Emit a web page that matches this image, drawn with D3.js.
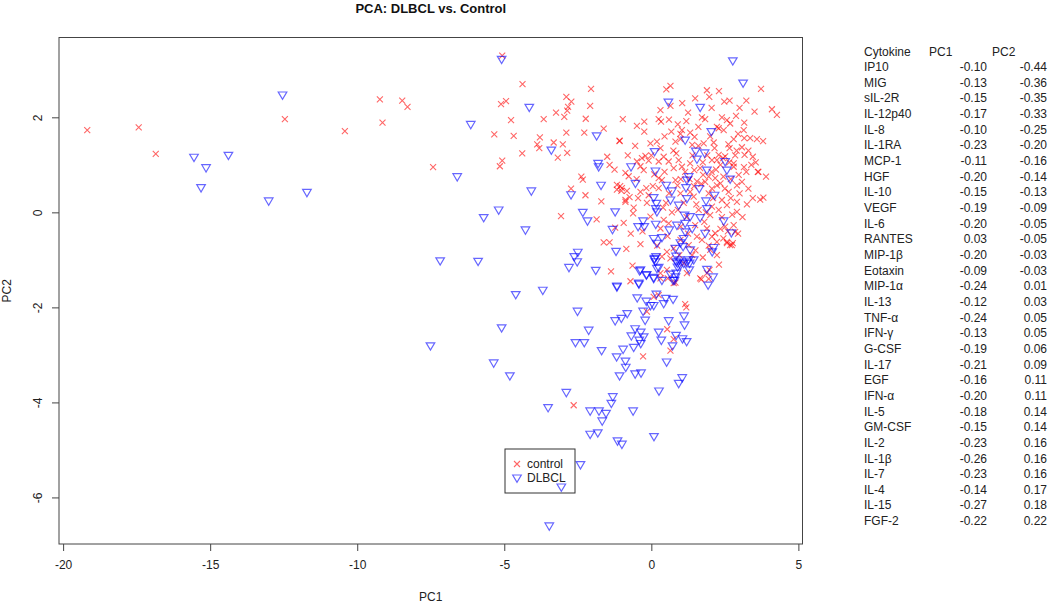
<!DOCTYPE html>
<html>
<head>
<meta charset="utf-8">
<script src="https://cdn.jsdelivr.net/npm/d3@7"></script>
<style>
  body { margin: 0; background: #fff; }
  text { font-family: "Liberation Sans", Arial, sans-serif; }
</style>
</head>
<body>
<div id="container"></div>
<script>
/* DATA */
const xTicks = [-20, -15, -10, -5, 0, 5];
const yTicks = [-6, -4, -2, 0, 2];

// control samples [PC1, PC2]
const controlPoints = [
  [-19.18,1.73],[-17.43,1.79],[-16.85,1.23],[-12.46,1.96],[-10.42,1.71],[-9.23,2.38],[-9.14,1.89],[-8.47,2.35],[-8.29,2.22],[-7.42,0.95],
  [-5.34,1.64],[-5.11,2.28],[-5.07,3.30],[-5.15,0.97],[-5.07,1.09],[-4.38,2.70],[-4.94,2.34],[-4.77,1.94],[-4.68,1.61],[-4.39,1.24],
  [-3.66,1.96],[-3.24,2.10],[-2.89,2.43],[-2.72,2.33],[-2.96,2.01],[-2.86,2.14],[-2.83,2.22],[-2.05,2.60],[-2.08,2.24],[-2.23,1.97],
  [-2.89,1.68],[-2.28,1.68],[-1.62,1.76],[-3.79,1.58],[-3.88,1.43],[-3.81,1.35],[-3.32,1.47],[-3.01,1.43],[-3.18,1.15],[-2.86,1.25],
  [-0.97,1.96],[-1.08,1.50],[-1.50,1.17],[-1.42,1.00],[-2.38,0.75],[-2.33,0.69],[-2.73,0.50],[-2.24,0.36],[-1.70,0.23],[-3.07,-0.08],
  [-1.86,-0.15],[-1.23,-0.32],[-1.62,-0.63],[-1.42,-0.63],[-0.85,-0.77],[-0.62,-0.02],[-1.37,-1.24],[-1.06,0.55],[-1.17,0.48],[-1.02,0.45],
  [-0.88,0.83],[-0.77,0.76],[-0.88,0.22],[-0.64,-1.12],[-0.71,-1.45],[-0.37,-0.67],[0.08,-1.78],[0.25,-1.74],[-0.15,-2.09],[1.15,-1.93],
  [1.19,-2.00],[0.54,-2.46],[0.76,-2.67],[0.65,-2.91],[-0.28,-3.03],[-2.64,-4.06],[1.70,-1.41],[1.95,-1.40],[1.98,-1.21],[1.21,-1.28],
  [1.10,-1.07],[0.76,-1.49],[0.31,-1.39],[0.53,-1.21],[2.23,-0.90],[2.57,-0.65],[2.74,-0.69],[2.00,-0.79],
  [0.65,2.66],[0.51,2.59],[1.89,2.57],[1.97,2.43],[1.49,2.40],[3.73,2.60],[2.48,2.33],[2.66,2.35],[3.23,2.35],[3.51,2.12],
  [4.10,2.17],[4.27,2.05],[0.31,2.15],[0.25,1.96],[0.33,1.91],[0.65,2.24],[-0.49,1.82],[-0.24,1.91],[-0.24,1.70],[1.19,1.92],
  [1.83,1.96],[2.40,2.00],[2.57,1.94],[2.68,1.87],[2.88,2.03],[3.16,1.89],[-1.08,1.51],[0.68,1.70],[0.99,1.65],[1.32,1.68],
  [1.47,1.59],[2.29,1.77],[2.46,1.73],[3.14,1.73],[3.16,1.56],[3.36,1.56],[3.59,1.54],[3.08,1.37],[3.45,1.17],[3.17,1.21],
  [-0.03,1.45],[0.19,1.49],[0.82,1.49],[0.99,1.54],[1.39,1.42],[1.78,1.45],[2.12,1.47],[2.80,1.54],[2.66,1.35],
  [-0.49,1.07],[-0.32,1.14],[-0.20,1.19],[-0.09,1.09],[-0.37,0.97],[-0.26,0.89],[0.31,1.35],[0.42,1.17],[0.25,1.07],[0.59,1.07],
  [0.85,1.24],[0.93,1.10],[0.76,0.93],[1.04,0.96],[1.32,1.03],[1.46,0.89],[1.66,0.93],[1.76,0.79],[1.95,0.75],[1.83,0.64],
  [2.06,1.10],[2.29,1.21],[2.35,1.00],[2.44,1.14],[2.80,0.96],[2.97,0.79],[2.91,0.57],[3.08,0.64],[2.17,0.72],[2.23,0.57],
  [2.35,0.61],[2.06,0.50],[3.62,0.85],[-1.17,0.58],[-1.00,0.51],[-0.83,0.45],[-0.74,0.32],[-0.88,0.26],[-0.37,0.43],[-0.17,0.51],
  [-0.09,0.36],[0.25,0.51],[0.36,0.68],[0.25,0.72],[0.82,0.68],[0.89,0.57],[0.99,0.40],[1.32,0.43],[1.44,0.33],[1.53,0.17],
  [1.61,0.05],[1.95,0.40],[2.06,0.12],[2.00,-0.06],[2.29,0.05],[2.40,0.26],[2.57,0.15],[2.63,0.43],[2.91,0.22],[2.91,0.01],
  [3.25,0.17],[3.70,0.27],[3.81,0.31],[-0.94,-0.22],[-0.03,-0.09],[0.42,-0.16],[0.31,-0.34],[0.59,-0.23],[1.49,-0.27],[1.55,-0.51],
  [1.72,-0.58],[1.89,-0.34],[2.06,-0.51],[2.17,-0.44],[2.23,-0.62],[2.51,-0.30],[2.80,-0.27],[2.85,-0.41],[2.57,-0.62],[2.68,-0.69],
  [2.77,-0.65],[0.99,-0.58],[0.76,-0.76],[1.27,-0.69],[1.39,-0.90],[0.53,-0.83],[0.36,-0.93],[0.65,-0.97],[0.31,-1.28],[0.56,-1.39],
  [0.82,-1.48],[1.66,-1.39],[1.89,-1.28],[1.72,2.00],[1.04,1.73],[2.23,1.80],[2.62,1.43],[2.51,1.18],[2.23,1.10],[2.80,1.03],
  [3.64,0.85],[3.23,0.85],[1.10,0.20],[1.70,0.60],[2.20,0.90],[2.70,0.70],[1.40,1.20],[1.90,1.20],[2.50,0.50],[1.20,-0.10],
  [0.60,0.40],[1.80,-0.20],[2.40,-0.10],[3.00,0.40],[3.30,0.50],[2.00,1.60],[1.60,1.80],[0.40,0.10],[2.60,-0.40],[1.00,-0.30],
  [0.10,0.80],[0.00,1.20],[3.40,1.00],[2.90,1.30],[1.30,0.70],[2.10,0.30],[0.70,0.00],[1.50,-0.80],[2.30,-1.10],[-0.50,0.70],
  [-0.60,0.10],[-0.30,-0.40],
  [0.45,1.60],[0.90,1.85],[1.25,2.10],[2.05,2.20],[2.95,1.65],[3.30,1.30],[3.55,1.05],[3.90,0.75],[3.45,0.30],[3.10,-0.10],
  [2.75,-0.05],[2.45,0.75],[2.15,1.35],[1.75,1.05],[1.55,0.65],[1.15,0.85],[0.75,1.30],[0.45,0.85],[0.05,0.55],[-0.15,0.20],
  [0.55,-0.50],[0.95,-0.90],[1.75,-0.95],[2.35,-0.35],[2.95,-0.45],[1.95,-0.70],[0.20,-0.70],[-0.70,-0.45],[-0.55,1.40],[-0.80,1.20],
  [-1.25,0.90],[-0.45,0.30],[0.90,0.05],[1.45,0.55],[2.65,1.05],[3.15,0.95],[2.05,0.85],[1.60,1.40],[0.60,1.95],[1.05,2.30],
  [2.30,2.55],[3.00,2.20],[3.80,1.50],[2.70,0.30],[1.85,0.00],[2.45,-0.55],[1.25,-0.45],[0.50,0.20],[1.00,0.70],[2.85,1.20]
];

// DLBCL samples [PC1, PC2]
const dlbclPoints = [
  [-12.54,2.47],[-15.55,1.16],[-15.14,0.94],[-14.38,1.20],[-15.31,0.52],[-13.01,0.24],[-11.71,0.42],[-6.14,1.85],[-6.60,0.75],[-5.19,0.05],
  [-5.70,-0.11],[-7.18,-1.02],[-5.89,-1.03],[-5.09,3.22],[-5.09,-2.43],[-7.51,-2.81],[-5.36,-3.17],[-4.15,2.21],[-4.08,0.45],[-4.28,-0.37],
  [-3.40,1.31],[-1.86,1.61],[-1.81,1.03],[-1.79,0.96],[-1.71,0.57],[-2.73,0.37],[-2.33,0.00],[-2.17,-0.18],[-1.23,0.01],[-1.32,-0.36],
  [-1.20,-0.82],[-1.89,-1.22],[-2.50,-0.84],[-2.62,-0.93],[-2.52,-1.04],[-2.80,-1.16],[-0.69,0.96],[-0.54,0.61],
  [-1.17,-1.57],[-0.40,-1.23],[-0.42,-1.51],[-0.16,-1.31],[0.10,-0.99],[0.16,-0.93],[0.08,-1.37],[0.25,-1.16],[-4.61,-1.73],[-3.69,-1.64],
  [-2.51,-2.08],[-2.13,-2.48],[-2.58,-2.74],[-2.28,-2.74],[-1.69,-2.91],[-4.81,-3.44],[-2.89,-3.79],[-3.51,-4.11],[-2.08,-4.18],[-1.78,-4.18],
  [-1.54,-4.23],[-1.31,-3.88],[-1.36,-4.02],[-1.67,-4.39],[-0.62,-4.18],[-2.08,-4.67],[-1.82,-4.64],[-1.15,-4.81],[-1.00,-4.88],[0.09,-4.72],
  [-2.41,-5.31],[-3.06,-5.78],[-3.47,-6.60],
  [-1.18,-3.04],[-0.96,-2.88],[-0.88,-3.13],[-0.87,-3.26],[-1.08,-3.44],[-0.55,-3.40],[-0.35,-3.38],[0.26,-3.76],[0.93,-3.60],[1.05,-3.48],
  [0.52,-3.15],[1.20,-2.72],[1.06,-2.66],[0.72,-2.81],[0.34,-2.69],[0.25,-2.52],[0.84,-2.59],[-0.60,-2.84],[-0.36,-2.76],[-0.41,-2.69],
  [-0.26,-2.62],[-0.68,-2.60],[-0.55,-2.45],[-0.36,-2.52],[-1.23,-2.28],[-1.02,-2.23],[-0.82,-2.13],[-0.21,-2.27],[-0.28,-2.08],[0.59,-2.28],
  [1.11,-2.18],[1.13,-2.37],[-0.48,-1.80],[-0.17,-1.87],[-0.03,-1.96],[0.08,-1.96],[0.17,-1.72],[0.42,-1.92],[0.74,-1.83],[0.49,-1.81],
  [0.82,-1.36],[0.79,-1.43],[0.65,-1.30],[1.89,-1.20],[2.10,-1.36],[1.93,-1.53],[0.89,-1.07],[0.96,-1.00],[1.21,-1.04],[1.29,-1.21],
  [1.44,-1.00],[1.30,-1.07],[0.84,-0.92],[0.82,-0.76],[0.08,-0.55],[0.19,-0.65],[2.07,-0.83],[2.12,-0.74],[2.72,-0.43],[0.99,-0.64],
  [2.77,3.19],[3.12,2.72],[0.58,2.32],[1.66,2.21],[2.04,1.70],[1.15,1.52],[0.11,1.28],[1.51,1.29],[1.81,1.25],[1.55,1.12],
  [0.14,0.87],[1.89,0.89],[2.51,1.07],[2.57,0.89],[2.68,0.70],[1.27,0.75],[1.21,0.68],[0.51,0.57],[0.70,0.45],[1.18,0.52],
  [1.63,0.50],[2.15,0.36],[0.08,0.31],[0.17,0.19],[0.15,0.08],[0.19,0.01],[0.65,0.26],[0.93,0.15],[1.21,0.29],[1.86,0.24],
  [1.89,0.08],[-0.28,-0.18],[-0.45,-0.30],[-0.24,-0.30],[0.15,-0.25],[0.36,-0.53],[0.61,-0.37],[0.87,-0.27],[1.13,-0.06],[1.32,-0.09],
  [1.66,-0.11],[1.15,-0.23],[1.15,-0.41],[1.10,-0.55],[1.39,-0.34],[1.83,-0.44],[2.46,-0.18],[1.08,-0.72],[1.32,-0.79],[0.11,-0.97],
  [0.14,-1.04],[0.19,-1.18],[0.85,-1.04],[0.89,-1.15],[0.99,-1.11],[1.10,-1.07],[1.27,-1.00],[-0.37,-1.21],[-0.17,-1.32],[0.08,-1.39],
  [0.36,-1.43],[0.74,-1.43],[0.85,-1.28],[-1.17,-1.55],[-0.43,-1.49]
];

const cytokines = ["IP10","MIG","sIL-2R","IL-12p40","IL-8","IL-1RA","MCP-1","HGF","IL-10","VEGF",
  "IL-6","RANTES","MIP-1β","Eotaxin","MIP-1α","IL-13","TNF-α","IFN-γ","G-CSF","IL-17",
  "EGF","IFN-α","IL-5","GM-CSF","IL-2","IL-1β","IL-7","IL-4","IL-15","FGF-2"];
const pc1Loadings = ["-0.10","-0.13","-0.15","-0.17","-0.10","-0.23","-0.11","-0.20","-0.15","-0.19",
  "-0.20","0.03","-0.20","-0.09","-0.24","-0.12","-0.24","-0.13","-0.19","-0.21",
  "-0.16","-0.20","-0.18","-0.15","-0.23","-0.26","-0.23","-0.14","-0.27","-0.22"];
const pc2Loadings = ["-0.44","-0.36","-0.35","-0.33","-0.25","-0.20","-0.16","-0.14","-0.13","-0.09",
  "-0.05","-0.05","-0.03","-0.03","0.01","0.03","0.05","0.05","0.06","0.09",
  "0.11","0.11","0.14","0.14","0.16","0.16","0.16","0.17","0.18","0.22"];

/* LAYOUT */
const width = 1050, height = 603;
const plot = { left: 59, right: 802.5, top: 37.5, bottom: 544 };
const axisColor = "#444";

const svg = d3.select("#container").append("svg")
  .attr("width", width).attr("height", height);

const x = d3.scaleLinear().domain([-20.14, 5.14]).range([plot.left, plot.right]);
const y = d3.scaleLinear().domain([-6.98, 3.68]).range([plot.bottom, plot.top]);

// title
svg.append("text")
  .attr("x", (plot.left + plot.right) / 2).attr("y", 13)
  .attr("text-anchor", "middle")
  .attr("font-size", 13).attr("font-weight", "bold")
  .attr("fill", "#111")
  .text("PCA: DLBCL vs. Control");

// axes
const xAxis = svg.append("g")
  .attr("transform", `translate(0,${plot.bottom})`)
  .call(d3.axisBottom(x).tickValues(xTicks).tickSize(7).tickPadding(9).tickFormat(d3.format("d")));
const yAxis = svg.append("g")
  .attr("transform", `translate(${plot.left},0)`)
  .call(d3.axisLeft(y).tickValues(yTicks).tickSize(7).tickPadding(0).tickFormat(d3.format("d")));

[xAxis, yAxis].forEach(g => {
  g.select(".domain").remove();
  g.selectAll(".tick line").attr("stroke", axisColor);
  g.selectAll(".tick text").attr("font-size", 12).attr("fill", "#222")
    .attr("font-family", "Liberation Sans, Arial, sans-serif");
});
xAxis.selectAll(".tick text").text(d => d < 0 ? "-" + Math.abs(d) : d);
// R style: y labels parallel to axis
yAxis.selectAll(".tick text")
  .text(d => d < 0 ? "-" + Math.abs(d) : d)
  .attr("text-anchor", "middle")
  .attr("x", 0).attr("dy", 0)
  .attr("transform", "translate(-20,0) rotate(-90)")
  .attr("dominant-baseline", "middle");

// plot box
svg.append("rect")
  .attr("x", plot.left).attr("y", plot.top)
  .attr("width", plot.right - plot.left).attr("height", plot.bottom - plot.top)
  .attr("fill", "none").attr("stroke", axisColor).attr("stroke-width", 1);

// axis titles
svg.append("text")
  .attr("x", (plot.left + plot.right) / 2).attr("y", 601)
  .attr("text-anchor", "middle").attr("font-size", 12).attr("fill", "#222")
  .text("PC1");
svg.append("text")
  .attr("transform", `translate(11,${(plot.top + plot.bottom) / 2}) rotate(-90)`)
  .attr("text-anchor", "middle").attr("font-size", 12).attr("fill", "#222")
  .text("PC2");

/* MARKS */
const crossPath = "M-3,-3L3,3M-3,3L3,-3";
const triPath = "M-4.3,-3L4.3,-3L0,4.3Z";
const red = "rgba(255,0,0,0.6)", blue = "rgba(0,0,255,0.6)";

svg.append("g").selectAll("path")
  .data(controlPoints).enter().append("path")
  .attr("d", crossPath)
  .attr("transform", d => `translate(${x(d[0])},${y(d[1])})`)
  .attr("fill", "none").attr("stroke", red).attr("stroke-width", 1.1);

svg.append("g").selectAll("path")
  .data(dlbclPoints).enter().append("path")
  .attr("d", triPath)
  .attr("transform", d => `translate(${x(d[0])},${y(d[1])})`)
  .attr("fill", "none").attr("stroke", blue).attr("stroke-width", 1.2);

/* LEGEND */
const legend = svg.append("g").attr("transform", "translate(505,449)");
legend.append("rect").attr("width", 70).attr("height", 44)
  .attr("fill", "none").attr("stroke", "#333").attr("stroke-width", 1);
legend.append("path").attr("d", crossPath).attr("transform", "translate(12,15)")
  .attr("fill", "none").attr("stroke", red).attr("stroke-width", 1.1);
legend.append("path").attr("d", triPath).attr("transform", "translate(12,29)")
  .attr("fill", "none").attr("stroke", blue).attr("stroke-width", 1.2);
legend.append("text").attr("x", 22).attr("y", 19).attr("font-size", 12).attr("fill", "#222").text("control");
legend.append("text").attr("x", 22).attr("y", 33).attr("font-size", 12).attr("fill", "#222").text("DLBCL");

/* LOADINGS TABLE */
const table = svg.append("g").attr("font-size", 12).attr("fill", "#222");
const rowY = i => 67 + i * 15.66;
table.append("text").attr("x", 864).attr("y", 56).text("Cytokine");
table.append("text").attr("x", 929).attr("y", 56).text("PC1");
table.append("text").attr("x", 992).attr("y", 56).text("PC2");
cytokines.forEach((c, i) => {
  table.append("text").attr("x", 864).attr("y", rowY(i) + 4).text(c);
  table.append("text").attr("x", 987).attr("y", rowY(i) + 4).attr("text-anchor", "end").text(pc1Loadings[i]);
  table.append("text").attr("x", 1047).attr("y", rowY(i) + 4).attr("text-anchor", "end").text(pc2Loadings[i]);
});
</script>
</body>
</html>
